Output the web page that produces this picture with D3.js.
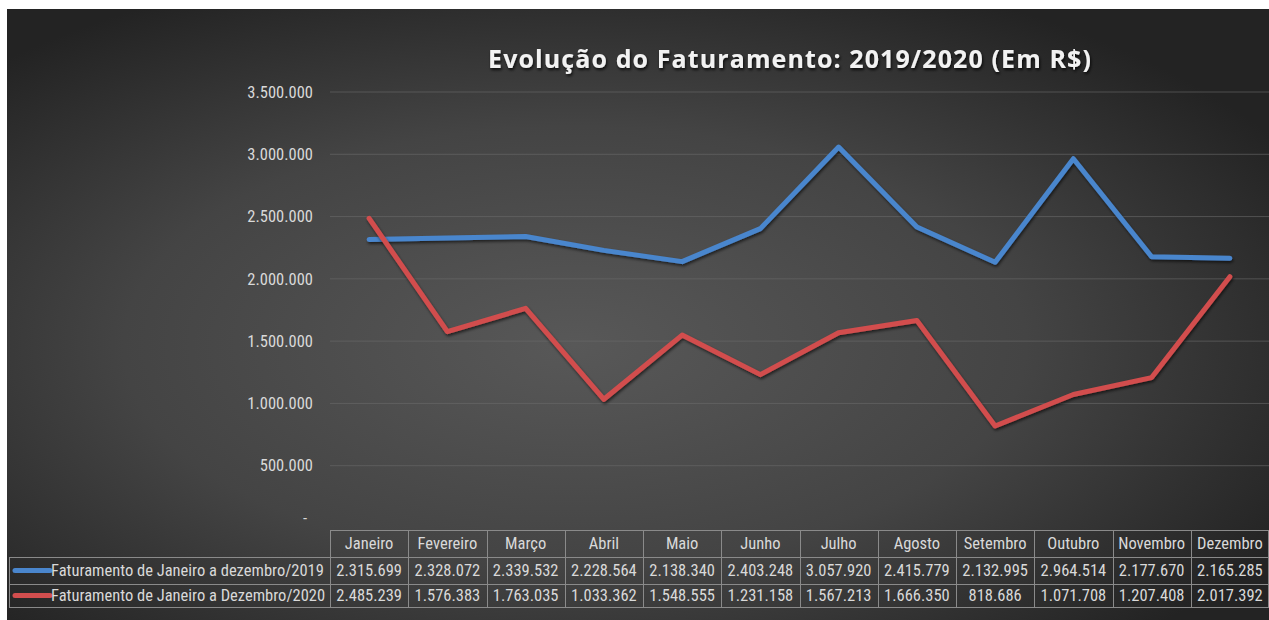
<!DOCTYPE html>
<html><head><meta charset="utf-8">
<script src="https://cdn.jsdelivr.net/npm/d3@7"></script>
<style>
html,body{margin:0;padding:0;background:#fff;}
svg{display:block;}
</style></head>
<body><svg id="c" width="1269" height="620"></svg>
<script>
const months = ["Janeiro","Fevereiro","Março","Abril","Maio","Junho","Julho","Agosto","Setembro","Outubro","Novembro","Dezembro"];
const s2019 = [2315699,2328072,2339532,2228564,2138340,2403248,3057920,2415779,2132995,2964514,2177670,2165285];
const s2020 = [2485239,1576383,1763035,1033362,1548555,1231158,1567213,1666350,818686,1071708,1207408,2017392];
const seriesNames = ["Faturamento de Janeiro a dezembro/2019","Faturamento de Janeiro a Dezembro/2020"];
const yTicks = [0,500000,1000000,1500000,2000000,2500000,3000000,3500000];
const title = "Evolução do Faturamento: 2019/2020 (Em R$)";

(function(){
const svg = d3.select("#c");
const defs = svg.append("defs");
const rg = defs.append("radialGradient").attr("id","bg").attr("cx","45%").attr("cy","55%").attr("r","65%");
rg.append("stop").attr("offset","0%").attr("stop-color","#585858");
rg.append("stop").attr("offset","55%").attr("stop-color","#444");
rg.append("stop").attr("offset","100%").attr("stop-color","#232323");
const f = defs.append("filter").attr("id","sh").attr("x","-5%").attr("y","-5%").attr("width","110%").attr("height","120%");
f.append("feDropShadow").attr("dx",1).attr("dy",2).attr("stdDeviation",1.5).attr("flood-color","#000").attr("flood-opacity",0.6);
const ft = defs.append("filter").attr("id","tsh").attr("x","-5%").attr("y","-20%").attr("width","110%").attr("height","150%");
ft.append("feDropShadow").attr("dx",1).attr("dy",2).attr("stdDeviation",1.5).attr("flood-color","#000").attr("flood-opacity",0.8);

svg.append("rect").attr("x",7).attr("y",9).attr("width",1262).attr("height",611).attr("fill","url(#bg)");

const pLeft = 330, pRight = 1269, pTop = 92, pBottom = 528;
const x = d3.scaleBand().domain(months).range([pLeft,pRight]).padding(0);
const y = d3.scaleLinear().domain([0,3500000]).range([pBottom,pTop]);
const fmt = v => v === 0 ? "-" : d3.format(",")(v).replace(/,/g,".");
const tf = "'Liberation Sans Narrow','Roboto Condensed','Liberation Sans',sans-serif";

svg.append("g").selectAll("line").data(yTicks.filter(d=>d>0)).join("line")
  .attr("x1",pLeft).attr("x2",pRight).attr("y1",d=>y(d)).attr("y2",d=>y(d))
  .attr("stroke","#6a6a6a").attr("stroke-width",1).attr("opacity",0.6);

const yAxis = d3.axisLeft(y).tickValues(yTicks).tickFormat(fmt).tickSize(0).tickPadding(0);
const ga = svg.append("g").attr("transform",`translate(${pLeft-17},0)`).call(yAxis);
ga.select(".domain").remove();
ga.selectAll("text").attr("fill","#d9d9d9").attr("font-family",tf)
  .attr("font-size",16.5).attr("dy","0.32em");
ga.selectAll(".tick").filter(d=>d===0).select("text").attr("dy","-0.25em").attr("dx",-6);

svg.append("text").attr("x",790).attr("y",68).attr("text-anchor","middle")
  .attr("fill","#f2f2f2").attr("font-family","'Open Sans','Noto Sans',sans-serif").attr("font-weight","bold")
  .attr("font-size",25).attr("letter-spacing",1.1).attr("filter","url(#tsh)").text(title);

const colors = ["#4a86cd","#d24e4e"];
const line = d3.line().x((d,i)=>x(months[i])+x.bandwidth()/2).y(d=>y(d));
[s2019,s2020].forEach((s,k)=>{
  svg.append("path").datum(s).attr("d",line).attr("fill","none").attr("stroke",colors[k])
    .attr("stroke-width",5).attr("stroke-linejoin","round").attr("stroke-linecap","round").attr("filter","url(#sh)");
});

const rowY = [530,557,584,607];
const gt = svg.append("g");
const bc = "#8a8a8a";
const fs = 16.5;
gt.append("line").attr("x1",pLeft).attr("x2",pRight).attr("y1",rowY[0]+0.5).attr("y2",rowY[0]+0.5).attr("stroke",bc);
[1,2,3].forEach(i=>gt.append("line").attr("x1",9).attr("x2",pRight).attr("y1",rowY[i]+0.5).attr("y2",rowY[i]+0.5).attr("stroke",bc));
gt.append("line").attr("x1",9.5).attr("x2",9.5).attr("y1",rowY[1]).attr("y2",rowY[3]).attr("stroke",bc);
months.forEach(m=>{
  const xx = Math.round(x(m))+0.5;
  gt.append("line").attr("x1",xx).attr("x2",xx).attr("y1",rowY[0]).attr("y2",rowY[3]).attr("stroke",bc);
});
gt.append("line").attr("x1",pRight-0.5).attr("x2",pRight-0.5).attr("y1",rowY[0]).attr("y2",rowY[3]).attr("stroke",bc);

gt.selectAll("text.h").data(months).join("text").attr("class","h")
  .attr("x",d=>x(d)+x.bandwidth()/2).attr("y",(rowY[0]+rowY[1])/2).attr("dy","0.35em")
  .attr("text-anchor","middle").attr("fill","#d9d9d9").attr("font-family",tf).attr("font-size",fs).text(d=>d);
[s2019,s2020].forEach((s,k)=>{
  const cy = (rowY[k+1]+rowY[k+2])/2;
  gt.selectAll("text.v"+k).data(s).join("text").attr("class","v"+k)
    .attr("x",(d,i)=>x(months[i])+x.bandwidth()/2).attr("y",cy).attr("dy","0.35em")
    .attr("text-anchor","middle").attr("fill","#d9d9d9").attr("font-family",tf).attr("font-size",fs).text(d=>fmt(d));
  gt.append("line").attr("x1",15).attr("x2",50).attr("y1",cy).attr("y2",cy)
    .attr("stroke",colors[k]).attr("stroke-width",5).attr("stroke-linecap","round");
  gt.append("text").attr("x",51).attr("y",cy).attr("dy","0.35em").attr("fill","#d9d9d9")
    .attr("font-family",tf).attr("font-size",fs).text(seriesNames[k]);
});
})();
</script></body></html>
